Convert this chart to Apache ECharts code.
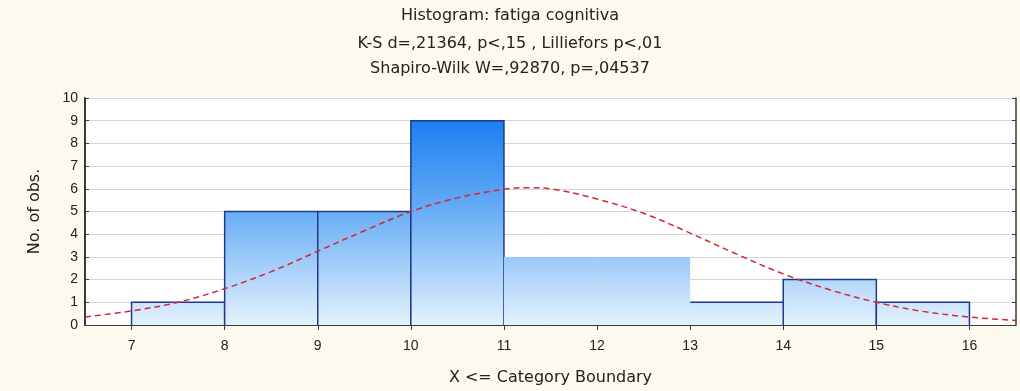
<!DOCTYPE html>
<html>
<head>
<meta charset="utf-8">
<script src="https://cdn.jsdelivr.net/npm/echarts@6/dist/echarts.min.js"></script>
<style>
html,body{margin:0;padding:0;background:#fcf9ee;}
#chart{width:1020px;height:391px;}
</style>
</head>
<body>
<div id="chart"></div>
<script>
// ---- data ----
const titleLines = [
  'Histogram: fatiga cognitiva',
  'K-S d=,21364, p<,15 , Lilliefors p<,01',
  'Shapiro-Wilk W=,92870, p=,04537'
];
const binStart = [7, 8, 9, 10, 11, 12, 13, 14, 15];
const binEnd   = [8, 9, 10, 11, 12, 13, 14, 15, 16];
const counts   = [1, 5, 5, 9, 3, 3, 1, 2, 1];
const xTicks = [7, 8, 9, 10, 11, 12, 13, 14, 15, 16];
const curveX = [6.5, 7, 7.5, 8, 8.5, 9, 9.5, 10, 10.5, 11, 11.25, 11.5, 12, 12.5, 13, 13.5, 14, 14.5, 15, 15.5, 16, 16.5];
const curveY = [0.35, 0.62, 1.0, 1.6, 2.35, 3.25, 4.15, 5.0, 5.6, 5.98, 6.05, 6.0, 5.55, 4.92, 4.05, 3.12, 2.25, 1.55, 1.0, 0.6, 0.35, 0.2];
const xName = 'X <= Category Boundary';
const yName = 'No. of obs.';

const barData = binStart.map((s, i) => [s, binEnd[i], counts[i]]);
const curveData = curveX.map((x, i) => [x, curveY[i]]);
// bins drawn without an outline, and bins drawn with only their top edge
const noOutline = new Set([4, 5]);
const topOnly = new Set([6]);

const chart = echarts.init(document.getElementById('chart'), null, {renderer: 'canvas'});
const font = 'Liberation Sans, Arial, sans-serif';
const wideFont = 'DejaVu Sans, Verdana, sans-serif';
const txt = '#222';
const frame = '#3a3a3a';

chart.setOption({
  backgroundColor: '#fcf9ee',
  animation: false,
  title: titleLines.map((t, i) => ({
    text: t, left: 'center', top: [8, 36, 61][i], padding: 0,
    textStyle: {fontFamily: wideFont, fontSize: 16, fontWeight: 'normal', color: txt}
  })),
  grid: {left: 85, right: 4, top: 98, bottom: 66, show: true, backgroundColor: '#ffffff', borderWidth: 0},
  xAxis: [{
    type: 'value', min: 6.5, max: 16.5, position: 'bottom',
    name: xName, nameLocation: 'middle', nameGap: 45,
    nameTextStyle: {fontFamily: wideFont, fontSize: 16, color: txt},
    axisLine: {show: true, onZero: false, lineStyle: {color: frame, width: 1}},
    axisTick: {show: true, length: 5, inside: false, customValues: xTicks, lineStyle: {color: frame}},
    axisLabel: {customValues: xTicks, fontFamily: font, fontSize: 14, color: txt, margin: 14},
    splitLine: {show: false}
  }, {
    type: 'value', min: 6.5, max: 16.5, position: 'top',
    axisLine: {show: false},
    axisTick: {show: true, length: 4, inside: true, customValues: xTicks, lineStyle: {color: frame}},
    axisLabel: {show: false}, splitLine: {show: false}
  }],
  yAxis: [{
    type: 'value', min: 0, max: 10, interval: 1, position: 'left',
    name: yName, nameLocation: 'middle', nameGap: 42,
    nameTextStyle: {fontFamily: wideFont, fontSize: 16, color: txt},
    axisLine: {show: true, onZero: false, lineStyle: {color: frame, width: 2}},
    axisTick: {show: true, inside: true, length: 4, lineStyle: {color: frame}},
    axisLabel: {fontFamily: font, fontSize: 14, color: txt, margin: 7},
    splitLine: {show: true, lineStyle: {color: '#d6d6d6', width: 1}}
  }, {
    type: 'value', min: 0, max: 10, interval: 1, position: 'right',
    axisLine: {show: true, onZero: false, lineStyle: {color: frame, width: 1.5}},
    axisTick: {show: true, inside: true, length: 4, lineStyle: {color: frame}},
    axisLabel: {show: false}, splitLine: {show: false}
  }],
  series: [{
    type: 'custom',
    xAxisIndex: 0, yAxisIndex: 0,
    data: barData,
    renderItem: function (params, api) {
      const i = params.dataIndex;
      const p0 = api.coord([api.value(0), 0]);
      const p1 = api.coord([api.value(1), api.value(2)]);
      const yTopRef = api.coord([0, 9])[1];
      const yBot = api.coord([0, 0])[1];
      const grad = new echarts.graphic.LinearGradient(0, yTopRef, 0, yBot, [
        {offset: 0, color: '#1b7ef2'},
        {offset: 0.45, color: '#6aaef5'},
        {offset: 1, color: '#e4f2fe'}
      ], true);
      const children = [{
        type: 'rect',
        shape: {x: p0[0], y: p1[1], width: p1[0] - p0[0], height: p0[1] - p1[1]},
        style: {fill: grad}
      }];
      if (!noOutline.has(i)) {
        const pts = topOnly.has(i)
          ? [[p0[0], p1[1]], [p1[0], p1[1]]]
          : [[p0[0], p0[1]], [p0[0], p1[1]], [p1[0], p1[1]], [p1[0], p0[1]]];
        children.push({
          type: 'polyline', shape: {points: pts},
          style: {stroke: '#1d3a8c', lineWidth: 1.5, fill: null}
        });
      }
      return {type: 'group', children: children};
    },
    z: 2
  }, {
    type: 'line',
    xAxisIndex: 0, yAxisIndex: 0,
    data: curveData,
    smooth: 0.35, showSymbol: false, clip: true,
    lineStyle: {color: '#d22535', width: 1.5, type: [6, 4]},
    z: 3
  }]
});
</script>
</body>
</html>
